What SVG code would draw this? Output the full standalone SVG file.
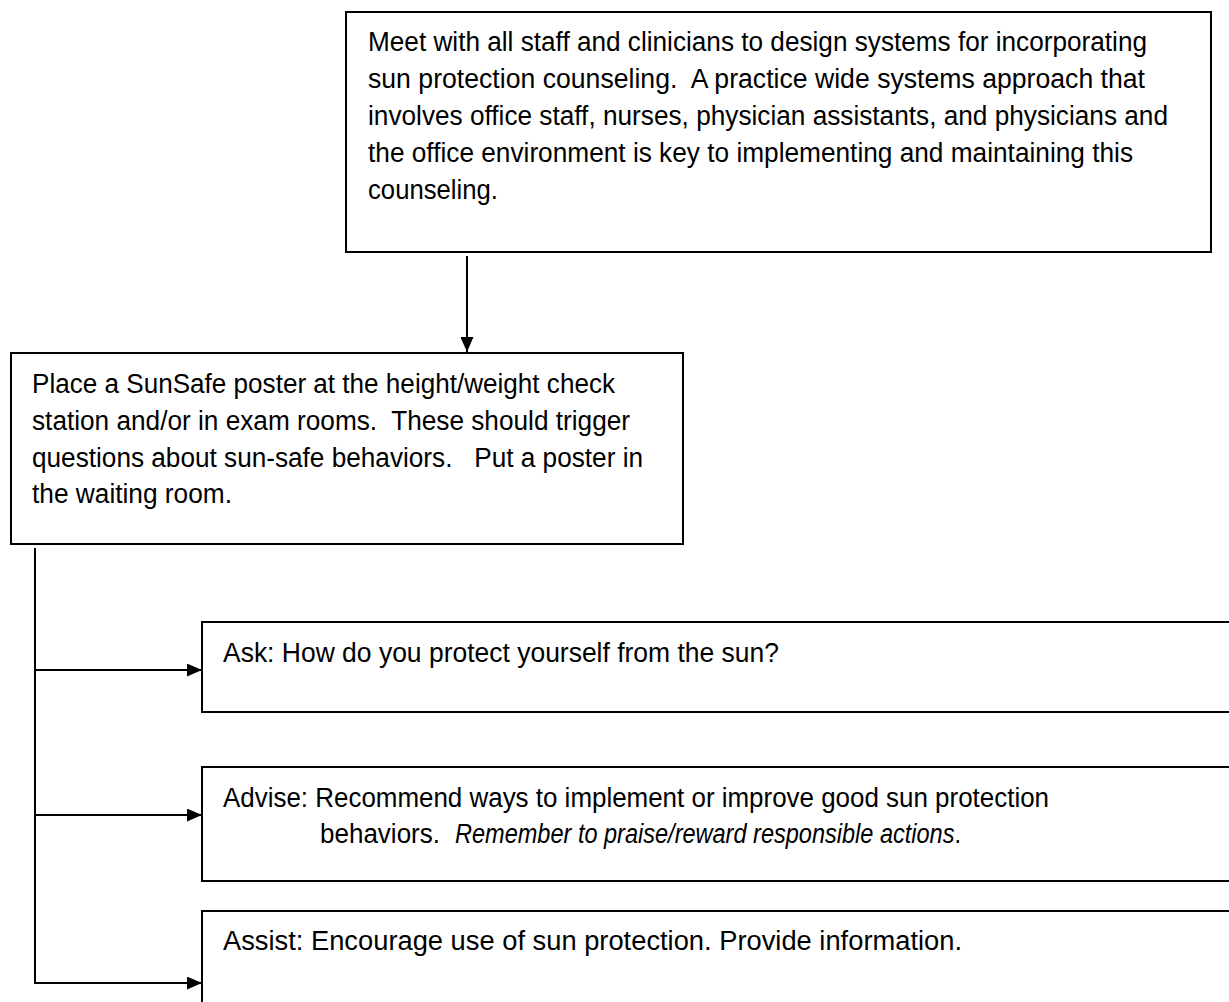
<svg xmlns="http://www.w3.org/2000/svg" width="1229" height="1002" viewBox="0 0 1229 1002">
<style>
.box{fill:#fff;stroke:#000;stroke-width:2}
.t{font-family:"Liberation Sans",Arial,sans-serif;font-size:27px;fill:#000;white-space:pre}
.i{font-style:italic}
.c{fill:none;stroke:#000;stroke-width:2}
</style>
<defs>
<marker id="ah" markerUnits="userSpaceOnUse" markerWidth="15" markerHeight="13" refX="15" refY="6.5" orient="auto">
<path d="M0,0 L15,6.5 L0,13 Z" fill="#000"/>
</marker>
</defs>
<g id="connectors">
<line class="c" x1="467" y1="256" x2="467" y2="352" marker-end="url(#ah)"/>
<line class="c" x1="35" y1="548" x2="35" y2="984"/>
<line class="c" x1="34" y1="670" x2="202" y2="670" marker-end="url(#ah)"/>
<line class="c" x1="34" y1="815" x2="202" y2="815" marker-end="url(#ah)"/>
<line class="c" x1="34" y1="983" x2="202" y2="983" marker-end="url(#ah)"/>
</g>
<g id="node-meet">
<rect class="box" x="346" y="12" width="865" height="240"/>
<text class="t" xml:space="preserve" x="368" y="51" textLength="779" lengthAdjust="spacingAndGlyphs">Meet with all staff and clinicians to design systems for incorporating</text>
<text class="t" xml:space="preserve" x="368" y="88" textLength="777" lengthAdjust="spacingAndGlyphs">sun protection counseling.  A practice wide systems approach that</text>
<text class="t" xml:space="preserve" x="368" y="125" textLength="800" lengthAdjust="spacingAndGlyphs">involves office staff, nurses, physician assistants, and physicians and</text>
<text class="t" xml:space="preserve" x="368" y="162" textLength="765" lengthAdjust="spacingAndGlyphs">the office environment is key to implementing and maintaining this</text>
<text class="t" xml:space="preserve" x="368" y="199" textLength="130" lengthAdjust="spacingAndGlyphs">counseling.</text>
</g>
<g id="node-poster">
<rect class="box" x="11" y="353" width="672" height="191"/>
<text class="t" xml:space="preserve" x="32" y="393" textLength="583" lengthAdjust="spacingAndGlyphs">Place a SunSafe poster at the height/weight check</text>
<text class="t" xml:space="preserve" x="32" y="430" textLength="598" lengthAdjust="spacingAndGlyphs">station and/or in exam rooms.  These should trigger</text>
<text class="t" xml:space="preserve" x="32" y="467" textLength="611" lengthAdjust="spacingAndGlyphs">questions about sun-safe behaviors.   Put a poster in</text>
<text class="t" xml:space="preserve" x="32" y="503" textLength="200" lengthAdjust="spacingAndGlyphs">the waiting room.</text>
</g>
<g id="node-ask">
<rect class="box" x="202" y="622" width="1040" height="90"/>
<text class="t" xml:space="preserve" x="223" y="662" textLength="556" lengthAdjust="spacingAndGlyphs">Ask: How do you protect yourself from the sun?</text>
</g>
<g id="node-advise">
<rect class="box" x="202" y="767" width="1040" height="114"/>
<text class="t" xml:space="preserve" x="223" y="807" textLength="826" lengthAdjust="spacingAndGlyphs">Advise: Recommend ways to implement or improve good sun protection</text>
<text class="t" x="320" y="843" textLength="120" lengthAdjust="spacingAndGlyphs">behaviors.</text>
<text class="t i" x="455" y="843" textLength="506" lengthAdjust="spacingAndGlyphs">Remember to praise/reward responsible actions<tspan font-style="normal">.</tspan></text>
</g>
<g id="node-assist">
<rect class="box" x="202" y="911" width="1040" height="110"/>
<text class="t" xml:space="preserve" x="223" y="950" textLength="739" lengthAdjust="spacingAndGlyphs">Assist: Encourage use of sun protection. Provide information.</text>
</g>
</svg>
